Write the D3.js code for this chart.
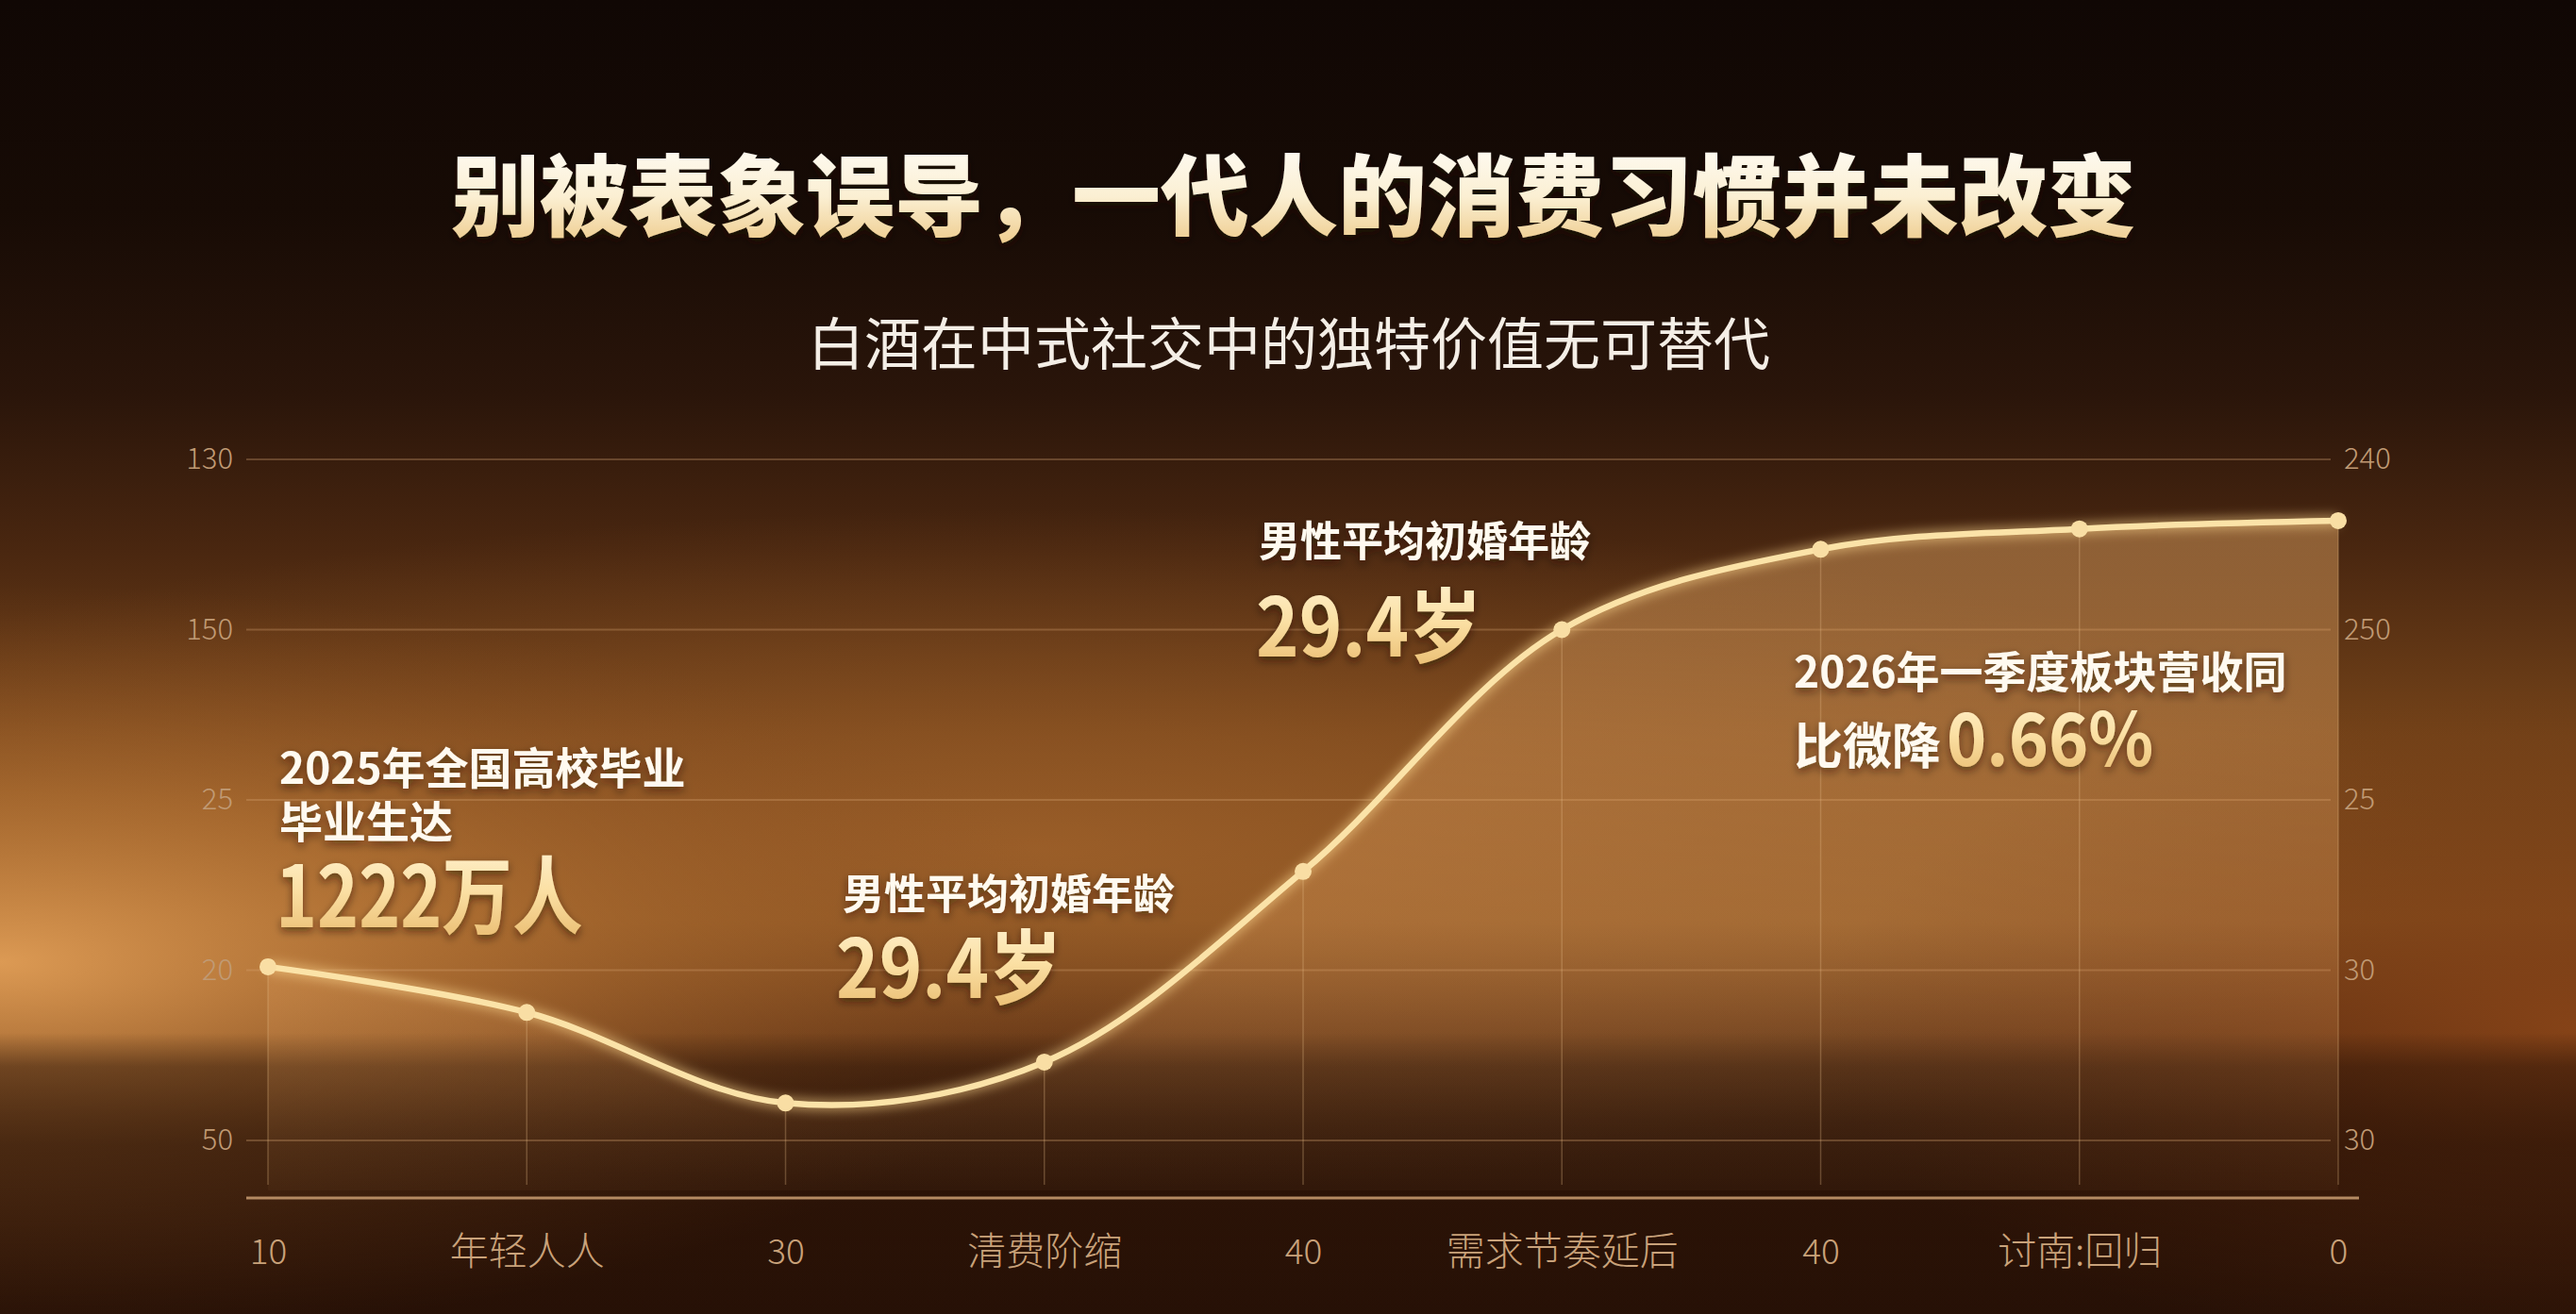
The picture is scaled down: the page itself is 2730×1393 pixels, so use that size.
<!DOCTYPE html>
<html>
<head>
<meta charset="utf-8">
<script src="https://cdn.jsdelivr.net/npm/d3@7"></script>
<style>
  html, body { margin: 0; padding: 0; background: #1a0c05; }
  svg { display: block; }
</style>
</head>
<body>
<div id="chart"></div>
<script>
// --- Data ---
const categories = ["10", "年轻人人", "30", "清费阶缩", "40", "需求节奏延后", "40", "讨南:回归", "0"];
const values = [25.5, 18.8, 5.5, 11.5, 39.5, 75, 86.8, 89.8, 91];
const tickValues = [0, 25, 50, 75, 100];
const leftTickLabels = ["50", "20", "25", "150", "130"];
const rightTickLabels = ["30", "30", "25", "250", "240"];

const titleText = "别被表象误导，一代人的消费习惯并未改变";
const subtitleText = "白酒在中式社交中的独特价值无可替代";

// --- Canvas ---
const w = 2730;
const h = 1393;
const font = "'Noto Sans CJK SC', 'Noto Sans', sans-serif";

const svg = d3.select("#chart")
    .append("svg")
    .attr("width", w)
    .attr("height", h);

const defs = svg.append("defs");

// background gradients
const bgLin = defs.append("linearGradient").attr("id", "bgLin")
    .attr("x1", 0).attr("y1", 0).attr("x2", 0).attr("y2", 1);
[[0, "#100704"], [0.16, "#170b05"], [0.3, "#2a150a"], [0.42, "#4a2710"],
 [0.56, "#744319"], [0.7, "#84501f"], [0.78, "#5e3214"], [0.85, "#3e1d0a"],
 [1, "#2b1307"]].forEach(function (s) {
    bgLin.append("stop").attr("offset", s[0]).attr("stop-color", s[1]);
});

const glowL = defs.append("radialGradient").attr("id", "glowL")
    .attr("cx", 0.5).attr("cy", 0.5).attr("r", 0.5);
glowL.append("stop").attr("offset", 0).attr("stop-color", "#dc9a54").attr("stop-opacity", 1);
glowL.append("stop").attr("offset", 0.45).attr("stop-color", "#c07c3a").attr("stop-opacity", 0.55);
glowL.append("stop").attr("offset", 1).attr("stop-color", "#8a4e20").attr("stop-opacity", 0);

const glowR = defs.append("radialGradient").attr("id", "glowR")
    .attr("cx", 0.5).attr("cy", 0.5).attr("r", 0.5);
glowR.append("stop").attr("offset", 0).attr("stop-color", "#8a4518").attr("stop-opacity", 0.9);
glowR.append("stop").attr("offset", 1).attr("stop-color", "#6a3010").attr("stop-opacity", 0);

const glowC = defs.append("radialGradient").attr("id", "glowC")
    .attr("cx", 0.5).attr("cy", 0.5).attr("r", 0.5);
glowC.append("stop").attr("offset", 0).attr("stop-color", "#ad6a30").attr("stop-opacity", 0.6);
glowC.append("stop").attr("offset", 1).attr("stop-color", "#9a5e2a").attr("stop-opacity", 0);

const darkBand = defs.append("linearGradient").attr("id", "darkBand")
    .attr("x1", 0).attr("y1", 0).attr("x2", 0).attr("y2", 1);
darkBand.append("stop").attr("offset", 0).attr("stop-color", "#1e0c04").attr("stop-opacity", 0);
darkBand.append("stop").attr("offset", 0.12).attr("stop-color", "#1e0c04").attr("stop-opacity", 0.42);
darkBand.append("stop").attr("offset", 0.4).attr("stop-color", "#1e0c04").attr("stop-opacity", 0.55);
darkBand.append("stop").attr("offset", 1).attr("stop-color", "#1e0c04").attr("stop-opacity", 0.35);

// area fill
const areaGrad = defs.append("linearGradient").attr("id", "areaGrad")
    .attr("x1", 0).attr("y1", 0).attr("x2", 0).attr("y2", 1);
areaGrad.append("stop").attr("offset", 0).attr("stop-color", "#e8aa66").attr("stop-opacity", 0.45);
areaGrad.append("stop").attr("offset", 0.6).attr("stop-color", "#e0a060").attr("stop-opacity", 0.3);
areaGrad.append("stop").attr("offset", 1).attr("stop-color", "#d89858").attr("stop-opacity", 0.04);

// text gradients
const titleGrad = defs.append("linearGradient").attr("id", "titleGrad")
    .attr("x1", 0).attr("y1", 0).attr("x2", 0).attr("y2", 1);
titleGrad.append("stop").attr("offset", 0).attr("stop-color", "#ffffff");
titleGrad.append("stop").attr("offset", 0.55).attr("stop-color", "#fbefd2");
titleGrad.append("stop").attr("offset", 1).attr("stop-color", "#ebc47e");

const goldGrad = defs.append("linearGradient").attr("id", "goldGrad")
    .attr("x1", 0).attr("y1", 0).attr("x2", 0).attr("y2", 1);
goldGrad.append("stop").attr("offset", 0).attr("stop-color", "#fff6dc");
goldGrad.append("stop").attr("offset", 0.5).attr("stop-color", "#fbe0a4");
goldGrad.append("stop").attr("offset", 1).attr("stop-color", "#e6b566");

const shadow = defs.append("filter").attr("id", "shadow")
    .attr("x", "-10%").attr("y", "-30%").attr("width", "120%").attr("height", "160%");
shadow.append("feDropShadow").attr("dx", 0).attr("dy", 4).attr("stdDeviation", 5)
    .attr("flood-color", "#1a0a02").attr("flood-opacity", 0.55);

const glow = defs.append("filter").attr("id", "glow")
    .attr("x", "-10%").attr("y", "-20%").attr("width", "120%").attr("height", "140%");
glow.append("feGaussianBlur").attr("stdDeviation", 6);

// --- Background ---
svg.append("rect").attr("width", w).attr("height", h).attr("fill", "url(#bgLin)");
svg.append("ellipse").attr("cx", 1100).attr("cy", 900).attr("rx", 1500).attr("ry", 360)
    .attr("fill", "url(#glowC)");
svg.append("ellipse").attr("cx", 0).attr("cy", 1020).attr("rx", 1150).attr("ry", 400)
    .attr("fill", "url(#glowL)");
svg.append("ellipse").attr("cx", 2730).attr("cy", 1090).attr("rx", 800).attr("ry", 360)
    .attr("fill", "url(#glowR)");
svg.append("rect").attr("x", 0).attr("y", 1095).attr("width", w).attr("height", h - 1095)
    .attr("fill", "url(#darkBand)");

// --- Titles ---
svg.append("text")
    .attr("x", 1371).attr("y", 243)
    .attr("text-anchor", "middle")
    .attr("font-family", font).attr("font-weight", 900).attr("font-size", 94)
    .attr("fill", "url(#titleGrad)")
    .attr("filter", "url(#shadow)")
    .text(titleText);

svg.append("text")
    .attr("x", 1366).attr("y", 387)
    .attr("text-anchor", "middle")
    .attr("font-family", font).attr("font-weight", 400).attr("font-size", 60)
    .attr("fill", "#f4eee6")
    .text(subtitleText);

// --- Scales ---
const xScale = d3.scalePoint()
    .domain(d3.range(categories.length))
    .range([284, 2478]);

const yScale = d3.scaleLinear()
    .domain([0, 100])
    .range([1209, 487]);

const yBase = 1270;
const gridLeft = 261;
const gridRight = 2470;

// horizontal grid lines
svg.append("g")
    .selectAll("line")
    .data(tickValues)
    .enter()
    .append("line")
    .attr("x1", gridLeft).attr("x2", gridRight)
    .attr("y1", function (d) { return yScale(d); })
    .attr("y2", function (d) { return yScale(d); })
    .attr("stroke", "#d9a878").attr("stroke-opacity", 0.3).attr("stroke-width", 2);

// left axis
const yAxisLeft = d3.axisLeft(yScale)
    .tickValues(tickValues)
    .tickSize(0)
    .tickPadding(0)
    .tickFormat(function (d, i) { return leftTickLabels[i]; });

const gLeft = svg.append("g")
    .attr("transform", "translate(247,0)")
    .call(yAxisLeft);
gLeft.select(".domain").remove();
gLeft.selectAll("text")
    .attr("font-family", font).attr("font-size", 31).attr("font-weight", 300)
    .attr("fill", "#c09a74");

// right axis
const yAxisRight = d3.axisRight(yScale)
    .tickValues(tickValues)
    .tickSize(0)
    .tickPadding(0)
    .tickFormat(function (d, i) { return rightTickLabels[i]; });

const gRight = svg.append("g")
    .attr("transform", "translate(2484,0)")
    .call(yAxisRight);
gRight.select(".domain").remove();
gRight.selectAll("text")
    .attr("font-family", font).attr("font-size", 31).attr("font-weight", 300)
    .attr("fill", "#c09a74");

// --- Area + line ---
const curve = d3.curveCatmullRom.alpha(0.5);

const area = d3.area()
    .x(function (d, i) { return xScale(i); })
    .y0(yBase - 8)
    .y1(function (d) { return yScale(d); })
    .curve(curve);

svg.append("path")
    .datum(values)
    .attr("d", area)
    .attr("fill", "url(#areaGrad)");

// vertical drop lines
svg.append("g")
    .selectAll("line")
    .data(values)
    .enter()
    .append("line")
    .attr("x1", function (d, i) { return xScale(i); })
    .attr("x2", function (d, i) { return xScale(i); })
    .attr("y1", function (d) { return yScale(d); })
    .attr("y2", yBase - 14)
    .attr("stroke", "#e6b888").attr("stroke-opacity", 0.3).attr("stroke-width", 1.5);

// bottom axis
const xAxis = d3.axisBottom(xScale)
    .tickSize(0)
    .tickPadding(0)
    .tickFormat(function (d) { return categories[d]; });

const gBottom = svg.append("g")
    .attr("transform", "translate(0," + yBase + ")")
    .call(xAxis);
gBottom.select(".domain")
    .attr("d", "M" + gridLeft + ",0H2500")
    .attr("stroke", "#b48a62").attr("stroke-width", 3);
gBottom.selectAll("text")
    .attr("y", 57)
    .attr("dy", "0.35em")
    .attr("font-family", font).attr("font-weight", 300)
    .attr("font-size", function (d) { return categories[d].length > 2 ? 41 : 37; })
    .attr("fill", "#c9a27a");

const line = d3.line()
    .x(function (d, i) { return xScale(i); })
    .y(function (d) { return yScale(d); })
    .curve(curve);

svg.append("path")
    .datum(values)
    .attr("d", line)
    .attr("fill", "none")
    .attr("stroke", "#ffd890").attr("stroke-opacity", 0.55)
    .attr("stroke-width", 12)
    .attr("filter", "url(#glow)");

svg.append("path")
    .datum(values)
    .attr("d", line)
    .attr("fill", "none")
    .attr("stroke", "#fbe3a8")
    .attr("stroke-width", 6.5)
    .attr("stroke-linecap", "round");

svg.append("g")
    .selectAll("circle")
    .data(values)
    .enter()
    .append("circle")
    .attr("cx", function (d, i) { return xScale(i); })
    .attr("cy", function (d) { return yScale(d); })
    .attr("r", 9)
    .attr("fill", "#f9dea4");

// --- Annotations ---
function label(x, y, txt, size) {
    svg.append("text")
        .attr("x", x).attr("y", y)
        .attr("font-family", font).attr("font-weight", 700).attr("font-size", size)
        .attr("fill", "#fffaf0")
        .attr("filter", "url(#shadow)")
        .text(txt);
}

function bigNumber(x, y, txt, size, sx) {
    svg.append("text")
        .attr("transform", "translate(" + x + "," + y + ") scale(" + sx + ",1)")
        .attr("font-family", font).attr("font-weight", 700).attr("font-size", size)
        .attr("fill", "url(#goldGrad)")
        .attr("filter", "url(#shadow)")
        .text(txt);
}

// 1
label(296, 831, "2025年全国高校毕业", 46);
label(296, 888, "毕业生达", 46);
bigNumber(292, 983, "1222万人", 90, 0.83);

// 2
label(893, 964, "男性平均初婚年龄", 44);
bigNumber(886, 1058, "29.4岁", 86, 0.9);

// 3
label(1334, 590, "男性平均初婚年龄", 44);
bigNumber(1331, 696, "29.4岁", 86, 0.9);

// 4
label(1901, 729, "2026年一季度板块营收同", 46);
label(1901, 810, "比微降", 52);
bigNumber(2063, 812, "0.66%", 78, 0.92);
</script>
</body>
</html>
